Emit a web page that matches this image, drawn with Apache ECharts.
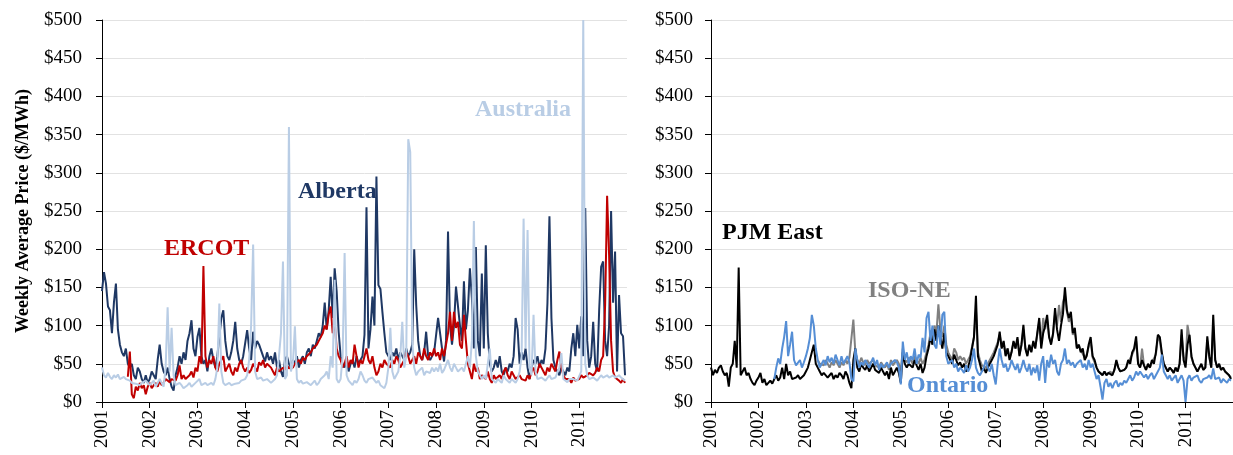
<!DOCTYPE html>
<html><head><meta charset="utf-8">
<script src="https://cdn.jsdelivr.net/npm/echarts@6/dist/echarts.min.js"></script>
<style>html,body{margin:0;padding:0;background:#fff}#c{width:1233px;height:455px}</style>
</head><body><div id="c"></div>
<script>
// Sampling: two points per month (half-month step), in decimal years
const STEP = 1 / 24;
const yearTicks = [2001, 2002, 2003, 2004, 2005, 2006, 2007, 2008, 2009, 2010, 2011];

// ---- Left panel ----
const albertaStart = 2001;
const alberta = [
  145,170,155,125,120,90,130,155,95,75,65,60,70,50,45,50,35,30,45,40,30,25,35,25,
  30,40,35,30,55,75,50,40,35,45,30,20,15,35,45,60,50,65,55,80,90,107,70,60,
  85,97,60,50,55,40,60,70,55,45,60,85,110,120,80,60,55,65,80,105,70,55,50,60,
  60,94,70,55,92,70,80,75,73,60,53,65,55,60,50,65,45,55,40,33,55,60,50,45,
  55,50,60,45,55,60,50,65,70,60,75,70,80,90,85,100,130,95,120,164,110,175,145,92,
  60,50,45,55,40,50,55,45,60,50,55,60,88,255,70,95,138,100,295,153,148,118,90,65,
  60,55,65,60,70,55,65,60,55,70,60,65,75,200,127,80,60,55,65,92,60,55,60,65,
  65,110,90,70,53,80,223,100,75,100,151,149,100,80,158,95,120,175,136,70,203,80,60,168,
  70,205,90,50,40,45,55,45,60,40,35,45,40,50,45,60,110,95,50,65,55,70,45,30,
  45,55,50,60,45,55,50,70,130,243,110,55,45,40,35,45,40,35,45,40,70,90,60,101,
  70,112,60,254,80,45,60,105,50,40,120,177,184,80,60,100,250,130,197,40,140,90,86,35
];
const ercotStart = 2001 + 13 / 24;
const ercot = [
  33,66,10,5,20,15,25,18,22,10,20,
  25,18,22,25,20,28,22,25,30,28,26,30,32,28,35,48,30,35,30,28,35,40,32,45,
  40,60,50,178,60,45,55,50,60,45,40,50,55,60,40,45,50,40,35,45,40,50,55,45,
  40,45,38,42,50,45,40,52,48,55,45,50,48,45,40,35,45,40,38,45,42,48,44,45,
  45,50,48,55,50,58,55,60,58,65,70,68,75,80,78,90,100,95,115,125,90,105,70,60,
  55,45,50,60,45,55,50,75,60,45,55,50,60,70,55,50,60,45,35,40,50,45,55,50,
  50,45,55,50,60,55,45,50,55,65,60,50,55,60,50,65,60,55,70,60,55,65,60,70,
  60,65,55,70,60,75,90,118,80,118,97,105,75,70,114,80,50,40,30,50,40,45,30,35,
  35,30,40,30,25,35,30,28,35,30,40,45,35,30,40,35,30,28,35,30,32,28,35,30,
  40,45,35,40,50,45,40,35,45,40,50,45,40,55,66,45,35,30,28,30,25,32,28,30,
  30,35,32,30,35,38,40,35,38,45,40,55,60,127,270,192,80,40,32,30,28,25,30,25
];
const australiaStart = 2001;
const australia = [
  45,35,32,38,33,30,35,32,36,30,28,33,30,32,28,25,27,24,26,22,25,23,28,25,
  22,25,28,20,22,30,25,20,45,124,40,97,35,22,20,25,22,18,20,22,25,20,22,25,
  25,30,22,20,25,22,20,25,22,30,45,129,40,25,22,20,25,22,20,24,22,25,28,26,
  30,35,55,101,206,40,30,28,32,28,26,30,28,25,27,30,35,60,90,184,30,35,360,40,
  50,99,30,25,28,24,22,26,24,22,25,28,22,25,30,28,35,40,30,60,45,160,30,25,
  30,60,195,35,28,25,22,28,25,30,40,35,28,25,30,28,32,30,25,28,22,20,18,25,
  45,97,40,30,35,40,60,105,45,60,344,327,80,45,35,40,38,45,35,40,42,38,45,40,
  45,40,50,38,42,40,55,45,40,50,45,40,38,45,40,50,60,45,80,237,60,40,35,30,
  35,30,28,70,30,28,25,30,28,25,35,30,28,25,30,28,25,30,40,60,240,70,225,45,
  35,114,40,30,28,32,30,28,30,35,30,28,32,30,45,64,30,28,26,30,28,30,32,28,
  30,40,500,50,35,30,28,32,30,28,30,35,32,30,35,32,30,35,32,30,35,32,30,28
];

// ---- Right panel ----
const pjmStart = 2001;
const pjmEast = [
  45,35,42,38,45,48,40,35,38,20,45,50,80,45,176,35,40,45,35,38,30,25,22,28,
  32,38,25,30,22,25,28,24,30,35,28,32,45,30,50,35,40,30,28,32,35,30,28,35,
  40,45,55,65,75,50,45,40,35,38,40,32,35,38,30,35,32,38,35,30,40,35,25,18,
  55,70,45,40,50,45,42,48,40,45,50,42,40,38,45,40,35,40,30,45,35,40,45,38,
  25,65,50,45,50,48,45,55,48,42,50,38,45,60,70,85,75,95,80,100,85,70,90,65,
  60,55,50,62,55,48,52,45,50,40,45,55,70,85,139,60,50,40,45,38,45,50,55,60,
  60,75,92,70,80,60,70,55,65,80,70,85,60,75,101,70,60,75,65,80,70,90,110,70,
  90,100,114,85,75,90,123,95,80,100,115,150,120,110,118,90,97,70,75,65,70,55,60,75,
  85,60,55,45,40,38,35,40,35,38,40,35,42,55,45,40,38,42,45,55,50,65,70,86,
  50,45,55,48,42,50,45,55,50,65,88,85,65,50,45,40,45,42,38,45,40,50,95,55,
  45,75,88,60,50,45,40,45,50,42,45,86,60,45,114,55,45,50,42,45,40,38,35,30
];
const isoneStart = 2001 + 54 / 24;
const isoNE = [
  55,50,52,48,55,50,45,52,48,55,50,45,52,48,55,50,58,60,
  108,65,55,50,58,52,48,55,50,52,55,48,50,45,52,48,45,50,42,55,48,50,55,50,
  40,70,55,52,58,55,50,60,55,50,58,50,55,65,75,90,80,100,90,128,95,85,100,75,
  65,60,55,70,65,55,60,55,58,50,52,60,72,85,120,65,55,48,50,45,50,55,60,65,
  65,78,88,72,78,62,70,58,66,78,70,82,62,74,95,70,62,74,66,78,72,88,105,75,
  110,95,108,85,78,88,115,100,127,105,131,140,118,105,112,88,92,72,75,68,70,58,62,72,
  80,58,52,45,40,38,36,40,36,38,40,36,42,52,45,40,38,42,45,52,50,62,68,80,
  50,45,70,48,42,48,45,52,50,62,85,80,62,50,45,40,45,42,38,45,40,50,88,60,
  50,101,85,58,50,45,40,45,48,42,45,80,58,45,100,55,45,48,42,45,40,38,35,32
];
const ontarioStart = 2001 + 32 / 24;
const ontario = [
  30,45,57,50,70,85,106,60,75,92,55,48,50,55,45,52,
  60,70,84,114,100,70,55,45,50,55,48,60,52,58,50,62,55,48,60,50,55,60,52,30,
  27,70,55,45,52,48,55,50,45,52,58,48,55,42,50,45,48,52,45,50,48,55,52,45,
  23,79,55,65,50,60,55,70,50,62,58,84,65,110,118,80,100,75,70,100,75,114,118,60,
  50,48,55,45,50,40,45,42,38,48,40,45,55,70,45,38,35,40,45,55,45,40,50,35,
  23,50,70,55,45,50,40,45,55,48,42,50,38,45,55,45,40,50,35,45,38,48,28,50,
  60,25,55,45,62,50,55,40,35,50,55,70,50,55,48,52,45,50,48,55,45,50,42,55,
  45,50,40,30,35,20,3,25,30,20,25,18,25,28,20,25,22,28,25,30,35,28,32,40,
  35,40,38,32,36,30,35,38,30,35,40,45,62,40,35,30,35,28,30,35,25,30,35,28,
  0,30,35,28,32,30,35,28,25,30,28,32,35,30,44,30,28,32,25,30,28,25,30,28
];

const FONT = '"Liberation Serif", "Times New Roman", serif';
const toXY = (start, arr) => arr.map((v, i) => [start + i * STEP, v]);

function xAxis(gi) {
  return {
    type: 'value', gridIndex: gi, min: yearTicks[0], max: yearTicks[yearTicks.length - 1] + 1, interval: 1,
    axisLine: { show: true, onZero: false, lineStyle: { color: '#000', width: 1 } },
    axisTick: { show: true, inside: false, length: 6, lineStyle: { color: '#000' } },
    axisLabel: { rotate: 90, margin: 8, fontSize: 19, fontFamily: FONT, color: '#000', showMaxLabel: false,
      formatter: v => (yearTicks.indexOf(v) >= 0 ? String(v) : '') },
    splitLine: { show: false }
  };
}
function yAxis(gi, withName, margin) {
  const ax = {
    type: 'value', gridIndex: gi, min: 0, max: 500, interval: 50,
    axisLine: { show: true, lineStyle: { color: '#000', width: 1 } },
    axisTick: { show: true, inside: false, length: 6, lineStyle: { color: '#000' } },
    axisLabel: { margin: margin, fontSize: 19, fontFamily: FONT, color: '#000', formatter: v => '$' + v },
    splitLine: { show: true, lineStyle: { color: '#e2e2e2', width: 1 } }
  };
  if (withName) {
    Object.assign(ax, { name: 'Weekly Average Price ($/MWh)', nameLocation: 'middle', nameGap: 70,
      nameTextStyle: { fontSize: 18, fontWeight: 'bold', fontFamily: FONT, color: '#000' } });
  }
  return ax;
}
function line(name, data, color, xi, yi) {
  return { name, type: 'line', data, xAxisIndex: xi, yAxisIndex: yi, showSymbol: false, symbol: 'none',
    lineStyle: { color, width: 2 }, itemStyle: { color }, z: 2, silent: true, clip: true };
}
function label(text, x, y, color) {
  return { type: 'text', x, y, style: { text, fill: color, font: 'bold 24px ' + FONT, verticalAlign: 'middle', align: 'left' }, z: 100 };
}

const chart = echarts.init(document.getElementById('c'), null, { renderer: 'canvas' });
chart.setOption({
  animation: false,
  backgroundColor: '#fff',
  textStyle: { fontFamily: FONT },
  grid: [
    { left: 102, top: 20, width: 525, height: 382 },
    { left: 711, top: 20, width: 525, height: 382 }
  ],
  xAxis: [xAxis(0), xAxis(1)],
  yAxis: [yAxis(0, true, 20), yAxis(1, false, 18)],
  series: [
    line('Alberta', toXY(albertaStart, alberta), '#1f3864', 0, 0),
    line('ERCOT', toXY(ercotStart, ercot), '#c00000', 0, 0),
    line('Australia', toXY(australiaStart, australia), '#b9cde5', 0, 0),
    line('ISO-NE', toXY(isoneStart, isoNE), '#808080', 1, 1),
    line('PJM East', toXY(pjmStart, pjmEast), '#000000', 1, 1),
    line('Ontario', toXY(ontarioStart, ontario), '#558ed5', 1, 1)
  ],
  graphic: [
    label('ERCOT', 164, 249, '#c00000'),
    label('Alberta', 298, 192, '#1f3864'),
    label('Australia', 475, 110, '#b9cde5'),
    label('PJM East', 722, 233, '#000000'),
    label('ISO-NE', 868, 291, '#808080'),
    label('Ontario', 907, 386, '#558ed5')
  ]
});
</script></body></html>
